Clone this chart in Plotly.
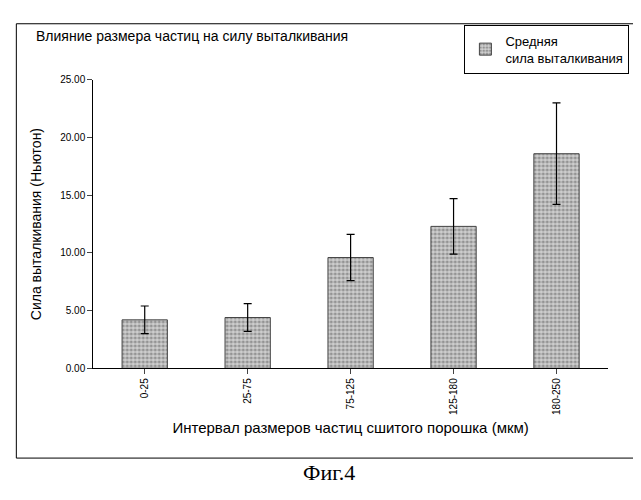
import plotly.graph_objects as go

# Данные
categories = ['0-25', '25-75', '75-125', '125-180', '180-250']
force_mean = [4.2, 4.4, 9.6, 12.3, 18.6]
force_err = [1.2, 1.2, 2.0, 2.4, 4.4]
y_ticks = [0, 5, 10, 15, 20, 25]

fig = go.Figure()

fig.add_trace(go.Bar(
    x=categories,
    y=force_mean,
    width=0.44,
    name='Средняя<br>сила выталкивания',
    marker=dict(color='#d0d0d0', line=dict(color='#444', width=1),
                pattern=dict(shape='.', fgcolor='#555', size=4, solidity=0.5)),
    error_y=dict(type='data', array=force_err, color='black', thickness=1.2, width=4),
))

fig.update_layout(
    width=641, height=500,
    paper_bgcolor='white', plot_bgcolor='white',
    margin=dict(l=0, r=0, t=0, b=0),
    font=dict(family='Liberation Sans, Arial', color='black', size=12),
    showlegend=True,
    legend=dict(x=0.712, y=0.978, xanchor='left', yanchor='top',
                bordercolor='black', borderwidth=1, font=dict(size=13),
                bgcolor='white'),
    xaxis=dict(domain=[0.133, 0.936], showline=True, linecolor='black',
               tickangle=-90, ticks='outside', tickfont=dict(size=10),
               title=dict(text='Интервал размеров частиц сшитого порошка (мкм)',
                          font=dict(size=15), standoff=8)),
    yaxis=dict(domain=[0.274, 0.865], range=[0, 25], tickvals=y_ticks,
               tickformat='.2f', showline=True, linecolor='black',
               ticks='outside', showgrid=False, tickfont=dict(size=10),
               title=dict(text='Сила выталкивания (Ньютон)', font=dict(size=14))),
    shapes=[dict(type='rect', xref='paper', yref='paper', x0=0.013, x1=0.992,
                 y0=0.09, y1=0.98, line=dict(color='black', width=1))],
    annotations=[
        dict(text='Влияние размера частиц на силу выталкивания', xref='paper',
             yref='paper', x=0.04, y=0.955, xanchor='left', yanchor='middle',
             showarrow=False, font=dict(size=14)),
        dict(text='Фиг.4', xref='paper', yref='paper', x=0.5, y=0.03,
             showarrow=False, font=dict(family='Liberation Serif', size=22)),
    ],
)

fig.write_html('out.html')
